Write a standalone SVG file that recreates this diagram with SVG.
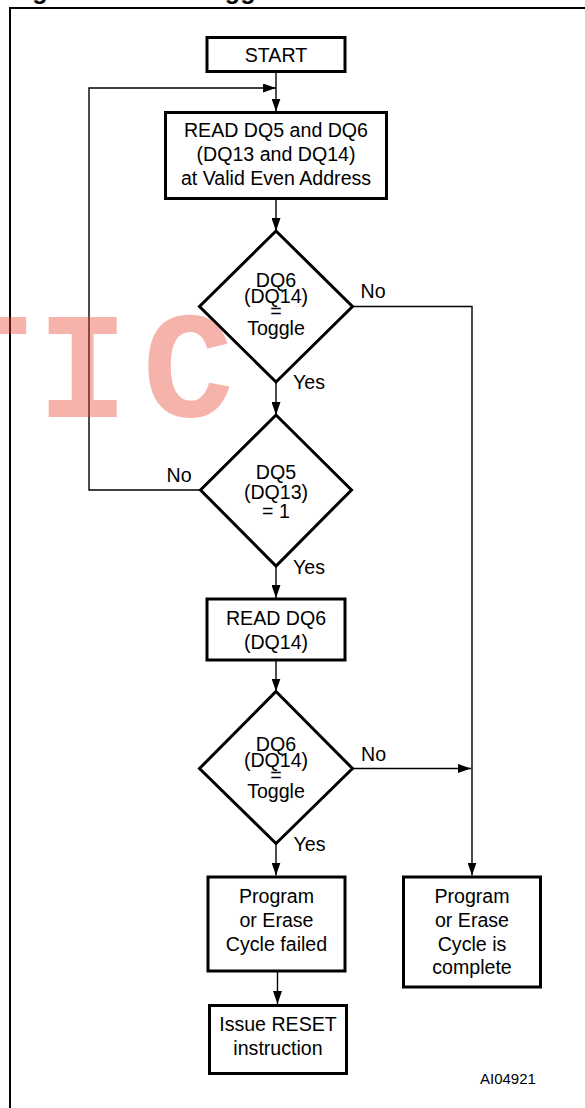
<svg xmlns="http://www.w3.org/2000/svg" width="585" height="1108" viewBox="0 0 585 1108">
<style>
.box{fill:#fff;stroke:#000;stroke-width:3}
.t{font-family:"Liberation Sans",Arial,sans-serif;font-size:19.6px;fill:#000;text-anchor:middle}
.lbl{font-family:"Liberation Sans",Arial,sans-serif;font-size:19.6px;fill:#000}
.con{fill:none;stroke:#000;stroke-width:1.4}
.wm{font-family:"Liberation Mono","DejaVu Sans Mono",monospace;font-weight:bold;font-size:152px;fill:#e8432f;opacity:0.4;text-anchor:middle}
</style>
<defs>
<marker id="arr" viewBox="0 0 13 9" refX="13" refY="4.5" markerWidth="13" markerHeight="9" markerUnits="userSpaceOnUse" orient="auto">
<path d="M0,0 L13,4.5 L0,9 z" fill="#000"/>
</marker>
</defs>
<rect width="585" height="1108" fill="#fff"/>
<text x="10" y="-1.5" font-family="'Liberation Sans',Arial,sans-serif" font-size="25" font-weight="bold" fill="#000">Figure 10. Data Toggle Flowchart</text>
<path d="M10,1112 V8 H590" fill="none" stroke="#000" stroke-width="2"/>
<g id="connectors">
<path class="con" d="M276,71.5 V111.5" marker-end="url(#arr)"/>
<path class="con" d="M200.5,490 H89 V88 H276" marker-end="url(#arr)"/>
<path class="con" d="M276,199 V231" marker-end="url(#arr)"/>
<path class="con" d="M276,382 V415" marker-end="url(#arr)"/>
<path class="con" d="M276,566 V598" marker-end="url(#arr)"/>
<path class="con" d="M276,660.5 V691.5" marker-end="url(#arr)"/>
<path class="con" d="M276,843.5 V875.5" marker-end="url(#arr)"/>
<path class="con" d="M277.5,971 V1004" marker-end="url(#arr)"/>
<path class="con" d="M352.5,306.5 H472 V875.5" marker-end="url(#arr)"/>
<path class="con" d="M352.5,768.5 H471" marker-end="url(#arr)"/>
</g>
<g id="start">
<rect class="box" x="207" y="37.5" width="138" height="34"/>
<text class="t" x="276" y="61.5">START</text>
</g>
<g id="read1">
<rect class="box" x="165.5" y="112.5" width="221" height="86"/>
<text class="t" x="276" y="136.5">READ DQ5 and DQ6</text>
<text class="t" x="276" y="160.5">(DQ13 and DQ14)</text>
<text class="t" x="276" y="184.5">at Valid Even Address</text>
</g>
<g id="dec1">
<polygon class="box" points="276,231 352.5,306.5 276,382 199.5,306.5"/>
<text class="t" x="276" y="286.7">DQ6</text>
<text class="t" x="276" y="303.3">(DQ14)</text>
<text class="t" x="276" y="317.5">=</text>
<text class="t" x="276" y="335">Toggle</text>
<text class="lbl" x="360.5" y="297.7">No</text>
<text class="lbl" x="293" y="389.3">Yes</text>
</g>
<g id="dec2">
<polygon class="box" points="276,415 351.5,490 276,566 200.5,490"/>
<text class="t" x="276" y="479">DQ5</text>
<text class="t" x="276" y="499">(DQ13)</text>
<text class="t" x="276" y="518">= 1</text>
<text class="lbl" x="166.5" y="481.7">No</text>
<text class="lbl" x="293" y="574">Yes</text>
</g>
<g id="read2">
<rect class="box" x="207" y="599" width="138" height="61"/>
<text class="t" x="276" y="624.5">READ DQ6</text>
<text class="t" x="276" y="648.5">(DQ14)</text>
</g>
<g id="dec3">
<polygon class="box" points="276,691.5 352.5,768.5 276,843.5 199.5,768.5"/>
<text class="t" x="276" y="751">DQ6</text>
<text class="t" x="276" y="767.3">(DQ14)</text>
<text class="t" x="276" y="781.6">=</text>
<text class="t" x="276" y="798.3">Toggle</text>
<text class="lbl" x="361" y="761">No</text>
<text class="lbl" x="293.5" y="851">Yes</text>
</g>
<g id="failed">
<rect class="box" x="208" y="877" width="137" height="94"/>
<text class="t" x="276.5" y="903.3">Program</text>
<text class="t" x="276.5" y="926.7">or Erase</text>
<text class="t" x="276.5" y="950.7">Cycle failed</text>
</g>
<g id="complete">
<rect class="box" x="403.5" y="877" width="137" height="110"/>
<text class="t" x="472" y="903.3">Program</text>
<text class="t" x="472" y="926.7">or Erase</text>
<text class="t" x="472" y="950.7">Cycle is</text>
<text class="t" x="472" y="974.3">complete</text>
</g>
<g id="reset">
<rect class="box" x="209.5" y="1005.5" width="137" height="68"/>
<text class="t" x="278" y="1031">Issue RESET</text>
<text class="t" x="278" y="1055">instruction</text>
</g>
<text x="480" y="1084" font-family="'Liberation Sans',Arial,sans-serif" font-size="15" fill="#000">AI04921</text>
<g id="watermark">
<text class="wm" x="-15" y="417">T</text>
<text class="wm" x="82.5" y="417">I</text>
<text class="wm" x="188" y="417">C</text>
</g>
</svg>
